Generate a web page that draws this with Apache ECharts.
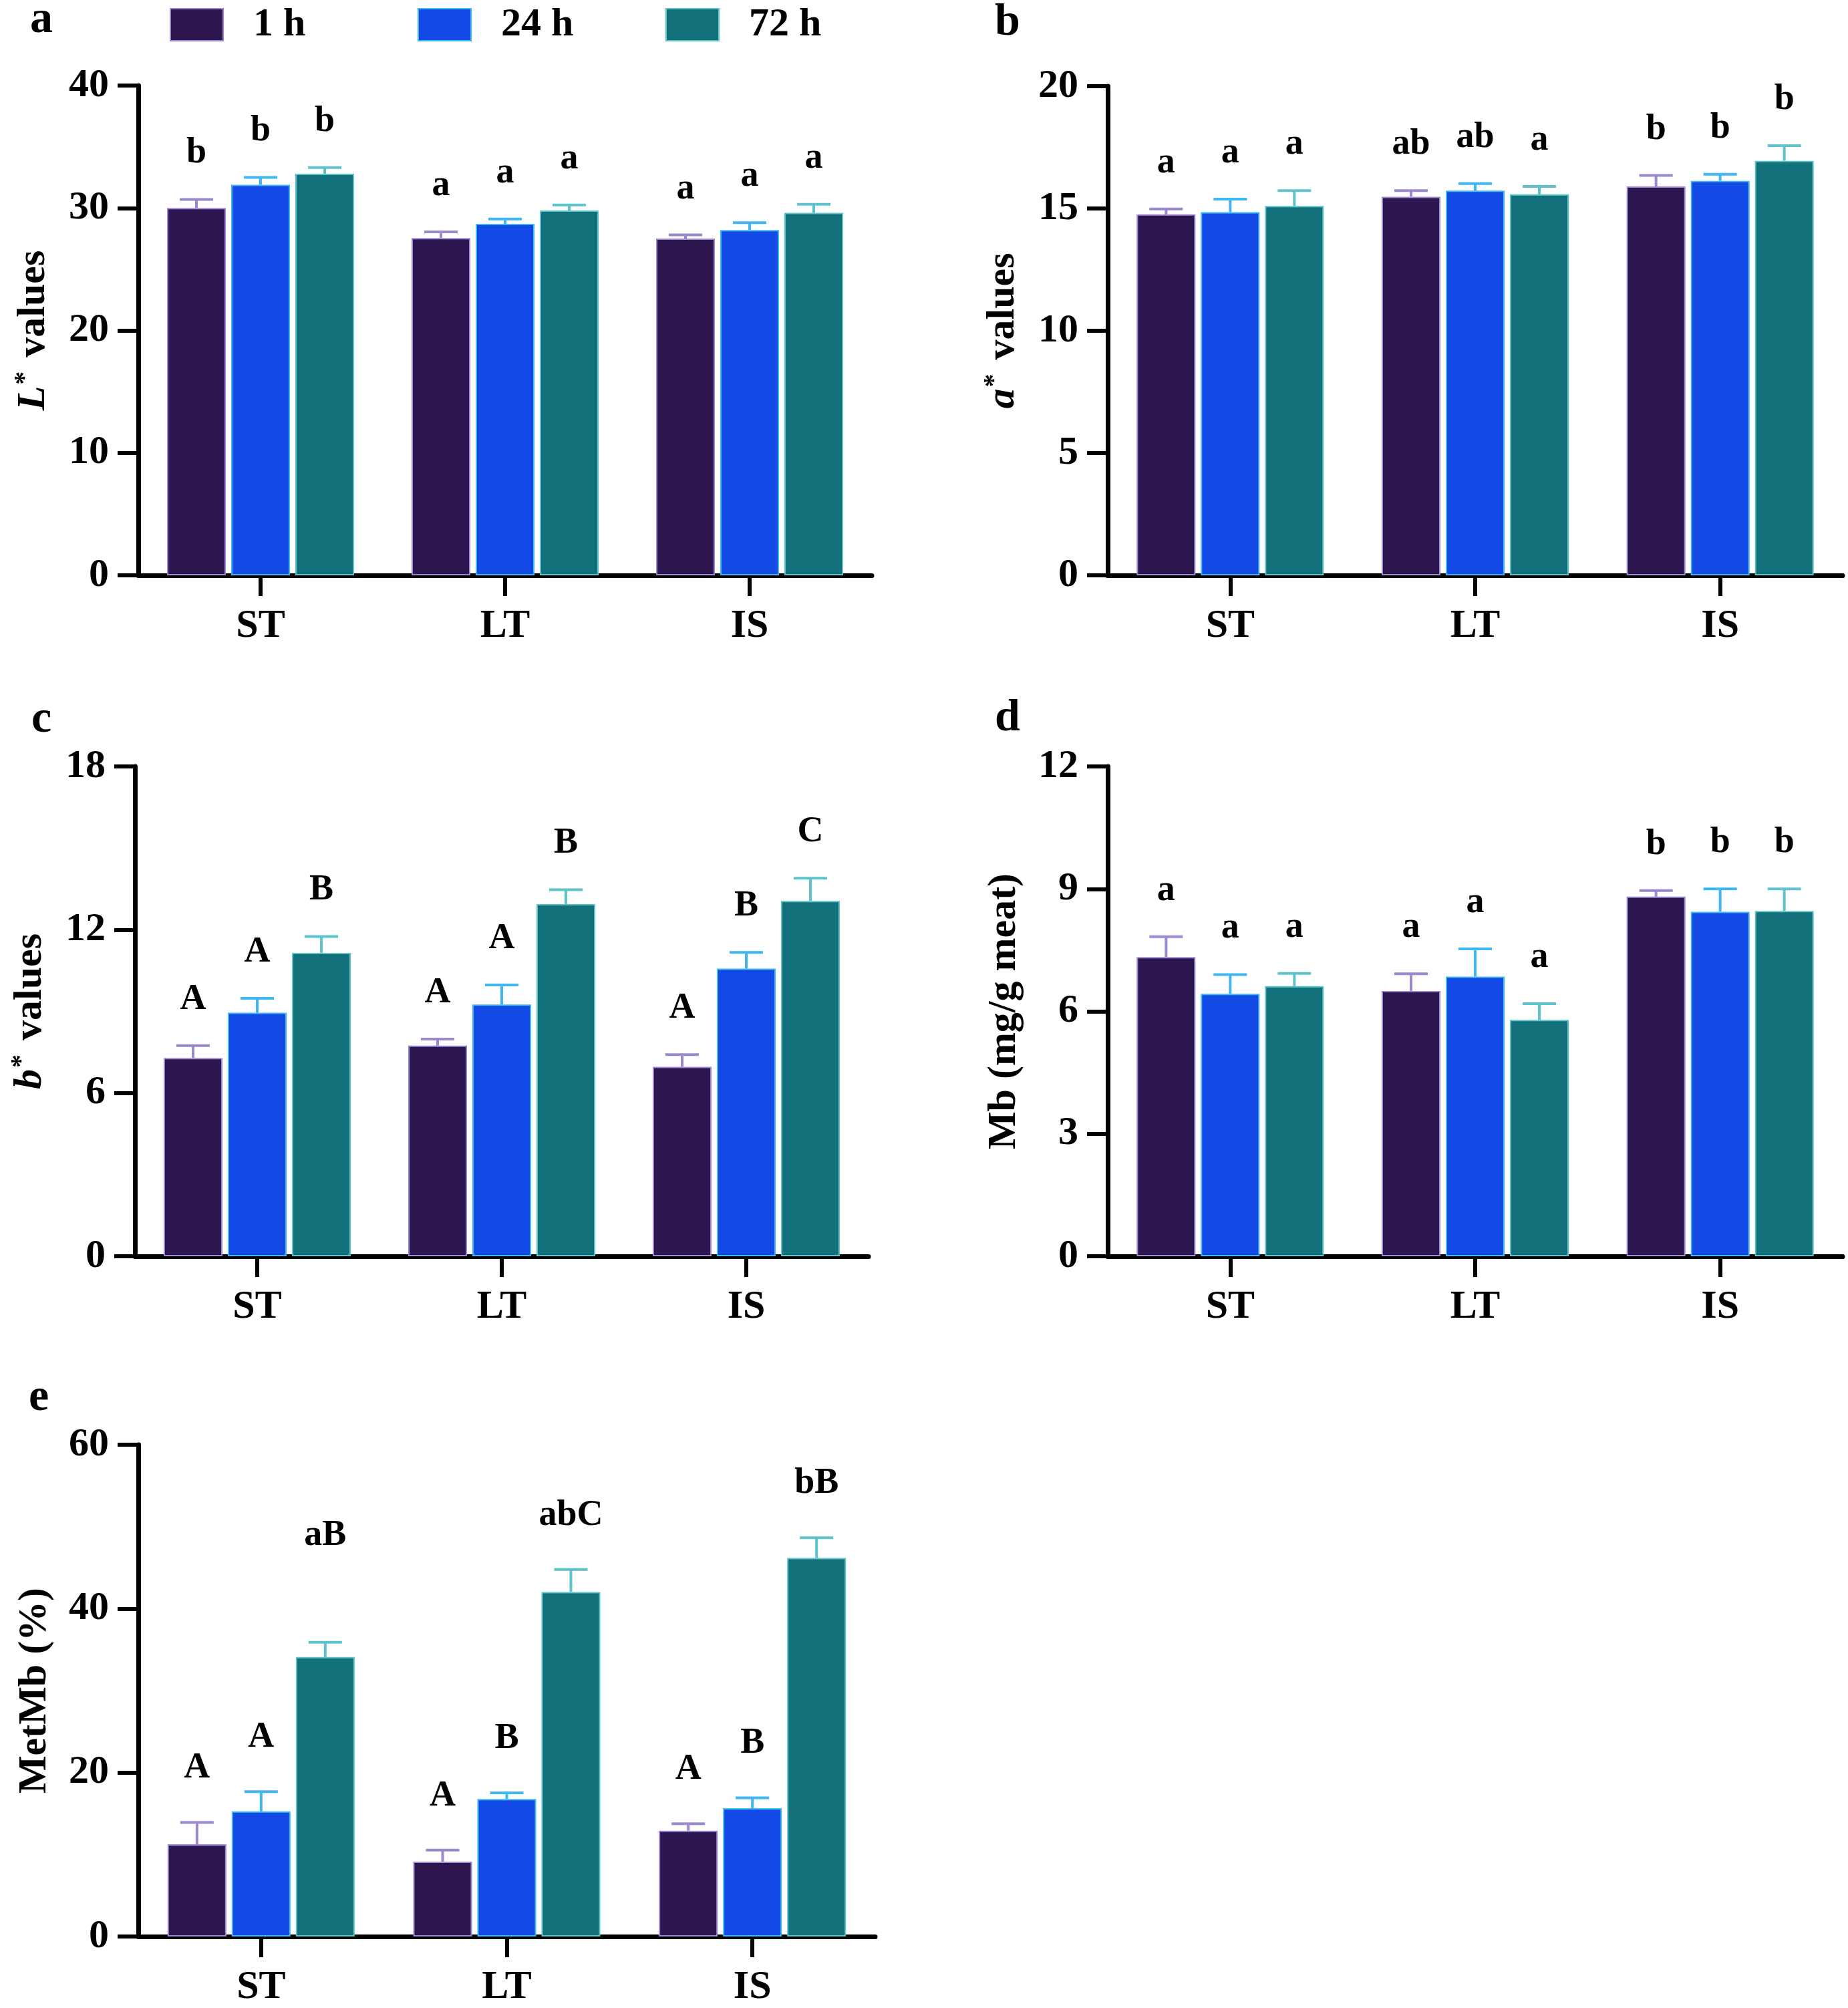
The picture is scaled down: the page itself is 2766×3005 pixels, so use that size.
<!DOCTYPE html>
<html>
<head>
<meta charset="utf-8">
<script src="https://cdn.jsdelivr.net/npm/echarts@6/dist/echarts.min.js"></script>
<style>
html,body{margin:0;padding:0;background:#fff;}
#chart{width:2766px;height:3005px;}
</style>
</head>
<body>
<div id="chart"></div>
<script>
// ---------------- DATA ----------------
const categories = ['ST', 'LT', 'IS'];
const seriesNames = ['1 h', '24 h', '72 h'];

// (a) L* values
const L_1h = [30.0, 27.55, 27.5];   const L_1h_se = [0.7, 0.5, 0.3];   const L_1h_sig = ['b', 'a', 'a'];
const L_24h = [31.9, 28.7, 28.2];   const L_24h_se = [0.6, 0.4, 0.6];  const L_24h_sig = ['b', 'a', 'a'];
const L_72h = [32.8, 29.8, 29.6];   const L_72h_se = [0.5, 0.45, 0.7]; const L_72h_sig = ['b', 'a', 'a'];
const L_ticks = [0, 10, 20, 30, 40];

// (b) a* values
const A_1h = [14.76, 15.48, 15.9];  const A_1h_se = [0.22, 0.25, 0.45]; const A_1h_sig = ['a', 'ab', 'b'];
const A_24h = [14.85, 15.73, 16.13]; const A_24h_se = [0.53, 0.29, 0.27]; const A_24h_sig = ['a', 'ab', 'b'];
const A_72h = [15.1, 15.58, 16.95]; const A_72h_se = [0.63, 0.32, 0.62]; const A_72h_sig = ['a', 'a', 'b'];
const A_ticks = [0, 5, 10, 15, 20];

// (c) b* values
const B_1h = [7.29, 7.74, 6.96];    const B_1h_se = [0.45, 0.24, 0.45]; const B_1h_sig = ['A', 'A', 'A'];
const B_24h = [8.95, 9.25, 10.57];  const B_24h_se = [0.53, 0.72, 0.6]; const B_24h_sig = ['A', 'A', 'B'];
const B_72h = [11.15, 12.94, 13.06]; const B_72h_se = [0.6, 0.53, 0.83]; const B_72h_sig = ['B', 'B', 'C'];
const B_ticks = [0, 6, 12, 18];

// (d) Mb (mg/g meat)
const Mb_1h = [7.33, 6.5, 8.81];    const Mb_1h_se = [0.5, 0.42, 0.15]; const Mb_1h_sig = ['a', 'a', 'b'];
const Mb_24h = [6.43, 6.85, 8.44];  const Mb_24h_se = [0.47, 0.68, 0.56]; const Mb_24h_sig = ['a', 'a', 'b'];
const Mb_72h = [6.62, 5.79, 8.46];  const Mb_72h_se = [0.31, 0.4, 0.54]; const Mb_72h_sig = ['a', 'a', 'b'];
const Mb_ticks = [0, 3, 6, 9, 12];

// (e) MetMb (%)
const Met_1h = [11.25, 9.14, 12.9]; const Met_1h_se = [2.66, 1.4, 0.85]; const Met_1h_sig = ['A', 'A', 'A'];
const Met_24h = [15.26, 16.77, 15.66]; const Met_24h_se = [2.4, 0.75, 1.26]; const Met_24h_sig = ['A', 'B', 'B'];
const Met_72h = [34.09, 42.02, 46.18]; const Met_72h_se = [1.8, 2.76, 2.46]; const Met_72h_sig = ['aB', 'abC', 'bB'];
const Met_ticks = [0, 20, 40, 60];

// ---------------- STYLE ----------------
const FONT = '"Liberation Serif", "Times New Roman", serif';
const BAR_COLORS = ['#2D1550', '#134AE6', '#117079'];
const EDGE_COLORS = ['#9C88CF', '#3FB7F2', '#5FC3CB'];
const BAR_W = 88, BAR_GAP_PX = 8, CAP_W = 50, ERR_LW = 4;
// extra upward shift (px) for individually raised letter labels: key = panel|series|category
const LABEL_LIFT = { 'e|2|0': 79 };

const panels = [
  { letter: 'a', grid: { left: 207, top: 128, width: 1098, height: 733 }, ticks: L_ticks,
    name: '{i|L}{s|*}{n| values}', labelGap: 42,
    groups: [[L_1h, L_1h_se, L_1h_sig], [L_24h, L_24h_se, L_24h_sig], [L_72h, L_72h_se, L_72h_sig]] },
  { letter: 'b', grid: { left: 1658, top: 129, width: 1100, height: 732 }, ticks: A_ticks,
    name: '{i|a}{s|*}{n| values}', labelGap: 42,
    groups: [[A_1h, A_1h_se, A_1h_sig], [A_24h, A_24h_se, A_24h_sig], [A_72h, A_72h_se, A_72h_sig]] },
  { letter: 'c', grid: { left: 202, top: 1147, width: 1098, height: 733 }, ticks: B_ticks,
    name: '{i|b}{s|*}{n| values}', labelGap: 42,
    groups: [[B_1h, B_1h_se, B_1h_sig], [B_24h, B_24h_se, B_24h_sig], [B_72h, B_72h_se, B_72h_sig]] },
  { letter: 'd', grid: { left: 1658, top: 1147, width: 1100, height: 733 }, ticks: Mb_ticks,
    name: '{n|Mb (mg/g meat)}', labelGap: 42,
    groups: [[Mb_1h, Mb_1h_se, Mb_1h_sig], [Mb_24h, Mb_24h_se, Mb_24h_sig], [Mb_72h, Mb_72h_se, Mb_72h_sig]] },
  { letter: 'e', grid: { left: 207, top: 2162, width: 1103, height: 736 }, ticks: Met_ticks,
    name: '{n|MetMb (%)}', labelGap: 54,
    groups: [[Met_1h, Met_1h_se, Met_1h_sig], [Met_24h, Met_24h_se, Met_24h_sig], [Met_72h, Met_72h_se, Met_72h_sig]] }
];
const letterPos = [[62, 30], [1508, 34], [62, 1077], [1508, 1075], [58, 2092]];

// ---------------- BUILD ----------------
const grids = [], xAxes = [], yAxes = [], series = [], graphics = [];
const axisText = { color: '#000', fontFamily: FONT, fontWeight: 'bold', fontSize: 60 };

panels.forEach((p, gi) => {
  grids.push(Object.assign({ containLabel: false }, p.grid));
  xAxes.push({
    type: 'category', gridIndex: gi, data: categories,
    axisLine: { show: true, lineStyle: { color: '#000', width: 7 } },
    axisTick: { show: true, alignWithLabel: true, length: 31, lineStyle: { color: '#000', width: 6 } },
    axisLabel: Object.assign({ margin: 46 }, axisText),
    splitLine: { show: false }
  });
  const t = p.ticks;
  yAxes.push({
    type: 'value', gridIndex: gi, min: t[0], max: t[t.length - 1], interval: t[1] - t[0],
    axisLine: { show: true, lineStyle: { color: '#000', width: 7 } },
    axisTick: { show: true, length: 31, lineStyle: { color: '#000', width: 6 } },
    axisLabel: Object.assign({ margin: 44 }, axisText),
    splitLine: { show: false },
    name: p.name, nameLocation: 'middle', nameRotate: 90, nameGap: 125,
    nameTextStyle: {
      color: '#000', fontFamily: FONT, fontWeight: 'bold', fontSize: 60,
      rich: {
        i: { fontFamily: FONT, fontWeight: 'bold', fontStyle: 'italic', fontSize: 60, color: '#000' },
        s: { fontFamily: FONT, fontWeight: 'bold', fontSize: 40, color: '#000', verticalAlign: 'top', padding: [0, 6, 24, 2] },
        n: { fontFamily: FONT, fontWeight: 'bold', fontSize: 60, color: '#000' }
      }
    }
  });
  p.groups.forEach((g, k) => {
    const vals = g[0], errs = g[1], sigs = g[2];
    series.push({
      type: 'bar', name: seriesNames[k], xAxisIndex: gi, yAxisIndex: gi,
      data: vals, barWidth: BAR_W, barGap: (BAR_GAP_PX / BAR_W * 100) + '%',
      itemStyle: { color: BAR_COLORS[k], borderColor: EDGE_COLORS[k], borderWidth: 2 },
      emphasis: { disabled: true }, z: 2
    });
    series.push({
      type: 'custom', xAxisIndex: gi, yAxisIndex: gi, silent: true, z: 3, clip: false,
      data: vals.map((v, i) => [i, v, errs[i]]),
      renderItem: (params, api) => {
        const i = api.value(0), v = api.value(1), e = api.value(2);
        const p0 = api.coord([i, v]);
        const p1 = api.coord([i, v + e]);
        const x = p0[0] + (k - 1) * (BAR_W + BAR_GAP_PX);
        const lift = LABEL_LIFT[p.letter + '|' + k + '|' + params.dataIndex] || 0;
        return {
          type: 'group',
          children: [
            { type: 'line', shape: { x1: x, y1: p0[1], x2: x, y2: p1[1] }, style: { stroke: EDGE_COLORS[k], lineWidth: ERR_LW } },
            { type: 'line', shape: { x1: x - CAP_W / 2, y1: p1[1], x2: x + CAP_W / 2, y2: p1[1] }, style: { stroke: EDGE_COLORS[k], lineWidth: ERR_LW } },
            { type: 'text', x: x, y: p1[1] - p.labelGap - lift,
              style: { text: sigs[params.dataIndex], fill: '#000', fontFamily: FONT, fontWeight: 'bold', fontSize: 54, align: 'center', verticalAlign: 'bottom' } }
          ]
        };
      }
    });
  });
  graphics.push({
    type: 'text', x: letterPos[gi][0], y: letterPos[gi][1],
    style: { text: p.letter, fill: '#000', fontFamily: FONT, fontWeight: 'bold', fontSize: 68, align: 'center', verticalAlign: 'middle' }
  });
});

const legendLefts = [249, 620, 991];
const legends = seriesNames.map((n, k) => ({
  data: [n], left: legendLefts[k], top: 2, orient: 'horizontal',
  icon: 'rect', itemWidth: 79, itemHeight: 48, selectedMode: false,
  textStyle: { color: '#000', fontFamily: FONT, fontWeight: 'bold', fontSize: 60, padding: [0, 0, 0, 40] }
}));

const chart = echarts.init(document.getElementById('chart'), null, { renderer: 'canvas' });
chart.setOption({
  backgroundColor: '#fff',
  animation: false,
  grid: grids,
  xAxis: xAxes,
  yAxis: yAxes,
  legend: legends,
  series: series,
  graphic: graphics
});
</script>
</body>
</html>
